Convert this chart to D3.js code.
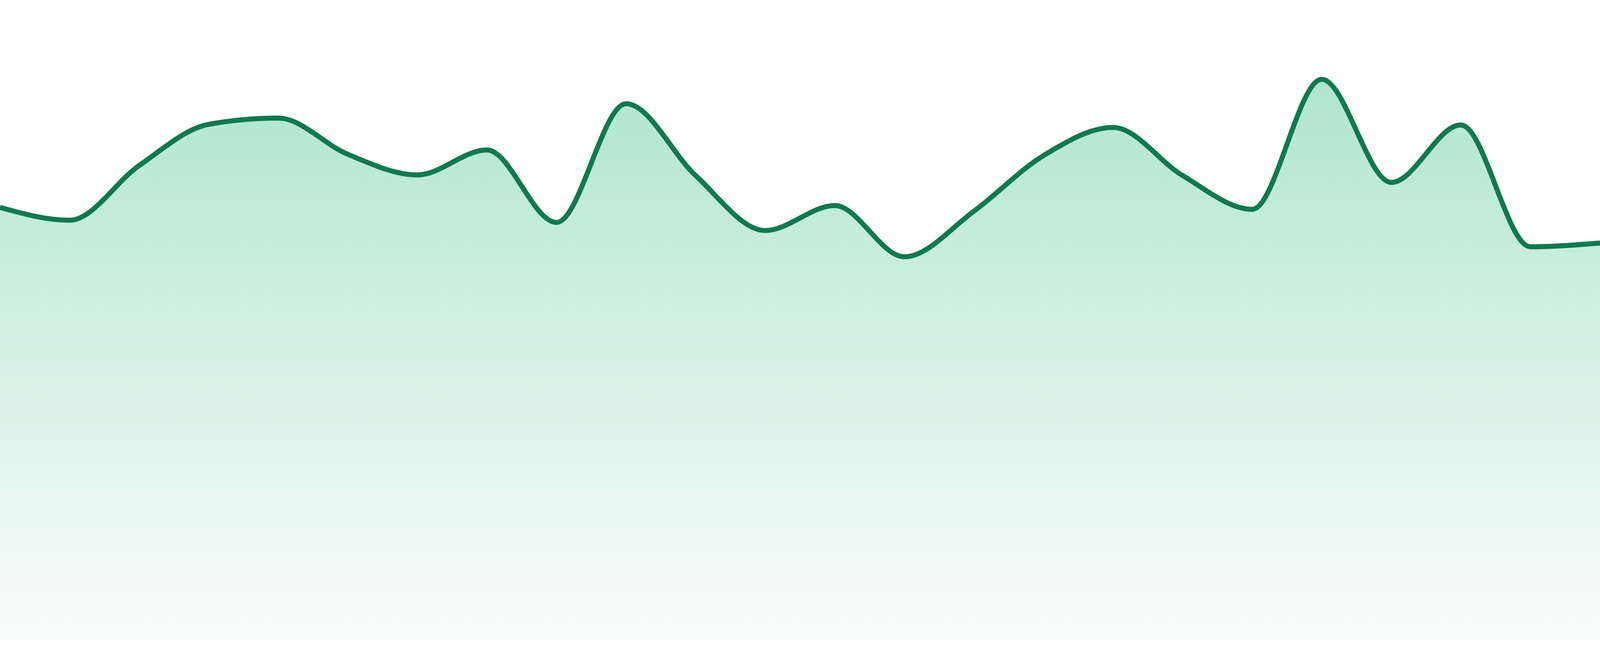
<!DOCTYPE html>
<html>
<head>
<meta charset="utf-8">
<script src="https://cdn.jsdelivr.net/npm/d3@7"></script>
<style>
  html, body { margin: 0; padding: 0; background: #ffffff; overflow: hidden; }
  svg { display: block; }
</style>
</head>
<body>
<div id="chart"></div>
<script>
const categories = ["1","2","3","4","5","6","7","8","9","10","11","12","13","14","15","16","17","18","19","20","21","22","23","24"];
const values = [69.3, 67.25, 76.0, 82.6, 83.6, 77.8, 74.5, 78.5, 66.9, 85.9, 74.4, 65.6, 69.6, 61.4, 68.7, 77.6, 82.1, 74.4, 69.0, 89.8, 73.3, 82.5, 63.0, 63.6];
const yDomain = [0, 100];

const W = window.innerWidth || document.documentElement.clientWidth || 4800;
const H = window.innerHeight || document.documentElement.clientHeight || 1680;
const k = W / 4800;
const plotTop = H * 40 / 1680, plotBottom = H * 1640 / 1680;

const svg = d3.select("#chart").append("svg")
  .attr("width", W).attr("height", H)
  .attr("viewBox", `0 0 ${W} ${H}`);

const x = d3.scalePoint().domain(categories).range([0, W]);
const y = d3.scaleLinear().domain(yDomain).range([plotBottom, plotTop]);

const data = categories.map((c, i) => ({ c, v: values[i] }));

const defs = svg.append("defs");
const grad = defs.append("linearGradient")
  .attr("id", "areaGrad")
  .attr("x1", 0).attr("y1", 0).attr("x2", 0).attr("y2", 1);
grad.append("stop").attr("offset", "0%").attr("stop-color", "#10b071").attr("stop-opacity", 0.33);
grad.append("stop").attr("offset", "100%").attr("stop-color", "#10b071").attr("stop-opacity", 0.02);

const area = d3.area()
  .x(d => x(d.c))
  .y0(y(yDomain[0]))
  .y1(d => y(d.v))
  .curve(d3.curveMonotoneX);

const line = d3.line()
  .x(d => x(d.c))
  .y(d => y(d.v))
  .curve(d3.curveMonotoneX);

svg.append("path")
  .datum(data)
  .attr("d", area)
  .attr("fill", "url(#areaGrad)");

svg.append("path")
  .datum(data)
  .attr("d", line)
  .attr("fill", "none")
  .attr("stroke", "#10794f")
  .attr("stroke-width", 15 * k)
  .attr("stroke-linejoin", "round");
</script>
</body>
</html>
